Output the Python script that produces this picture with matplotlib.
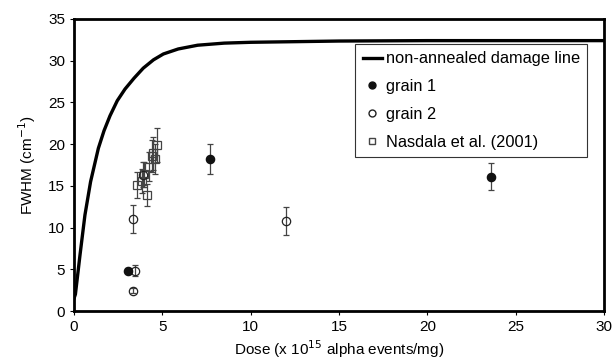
import matplotlib
matplotlib.use("Agg")
import matplotlib.pyplot as plt
from matplotlib.lines import Line2D

plt.rcParams['font.family'] = ['Liberation Sans', 'DejaVu Sans']

# non-annealed damage line
line_dose = [0.0, 0.08, 0.34, 0.62, 0.94, 1.38, 1.7, 2.04, 2.45, 2.89, 3.4,
             3.92, 4.5, 5.06, 5.9, 7.0, 8.5, 10, 15, 20, 30]
line_fwhm = [1.5, 2.0, 6.7, 11.5, 15.5, 19.5, 21.6, 23.4, 25.2, 26.6, 27.9,
             29.1, 30.1, 30.8, 31.4, 31.85, 32.1, 32.2, 32.35, 32.4, 32.4]

# grain 1
g1_dose = [3.07, 7.7, 23.6]
g1_fwhm = [4.8, 18.2, 16.1]
g1_err = [0.3, 1.8, 1.6]

# grain 2
g2_dose = [3.32, 3.45, 3.36, 3.88, 12.0]
g2_fwhm = [11.0, 4.85, 2.4, 16.3, 10.8]
g2_err = [1.65, 0.7, 0.3, 1.5, 1.65]

# Nasdala et al. (2001)
n_dose = [3.55, 3.85, 3.97, 4.11, 4.22, 4.42, 4.5, 4.58, 4.71]
n_fwhm = [15.1, 15.6, 16.4, 13.9, 17.3, 18.6, 18.9, 18.2, 19.9]
n_err = [1.5, 1.4, 1.5, 1.3, 1.7, 1.9, 2.0, 1.8, 2.0]

fig = plt.figure(figsize=(6.15, 3.64), dpi=100)
ax = fig.add_axes([0.1203, 0.1456, 0.8618, 0.8024])

ax.plot(line_dose, line_fwhm, color='black', lw=2.4, zorder=2)

ekw = dict(ecolor='#444444', elinewidth=0.9, capsize=2.5, capthick=0.9, ls='none')
ax.errorbar(n_dose, n_fwhm, yerr=n_err, marker='s', ms=6, mfc='none',
            mec='#444444', mew=0.9, zorder=3, **ekw)
ax.errorbar(g2_dose, g2_fwhm, yerr=g2_err, marker='o', ms=6, mfc='none',
            mec='#222222', mew=0.9, zorder=4, **ekw)
ax.errorbar(g1_dose, g1_fwhm, yerr=g1_err, marker='o', ms=6, mfc='#111111',
            mec='#111111', mew=0.9, zorder=5, **ekw)

ax.set_xlim(0, 30)
ax.set_ylim(0, 35)
ax.set_xticks(range(0, 31, 5))
ax.set_yticks(range(0, 36, 5))
ax.tick_params(direction='out', length=3, width=0.8, labelsize=11)
for s in ax.spines.values():
    s.set_linewidth(2.0)

ax.set_xlabel('Dose (x 10$^{15}$ alpha events/mg)', fontsize=11, labelpad=3)
ax.set_ylabel('FWHM (cm$^{-1}$)', fontsize=11, labelpad=7)

handles = [
    Line2D([0], [0], color='black', lw=2.4, label='non-annealed damage line'),
    Line2D([0], [0], marker='o', ls='none', mfc='#111111', mec='#111111',
           ms=5, label='grain 1'),
    Line2D([0], [0], marker='o', ls='none', mfc='white', mec='#222222',
           ms=5, label='grain 2'),
    Line2D([0], [0], marker='s', ls='none', mfc='white', mec='#444444',
           ms=5, label='Nasdala et al. (2001)'),
]
leg = ax.legend(handles=handles, loc='upper right',
                bbox_to_anchor=(0.968, 0.914), borderaxespad=0,
                fancybox=False, edgecolor='#333333', framealpha=1,
                fontsize=11.8, handlelength=1.2, handletextpad=0.2,
                labelspacing=0.78, borderpad=0.45)
leg.get_frame().set_linewidth(0.8)

fig.savefig('out.png', dpi=100)
